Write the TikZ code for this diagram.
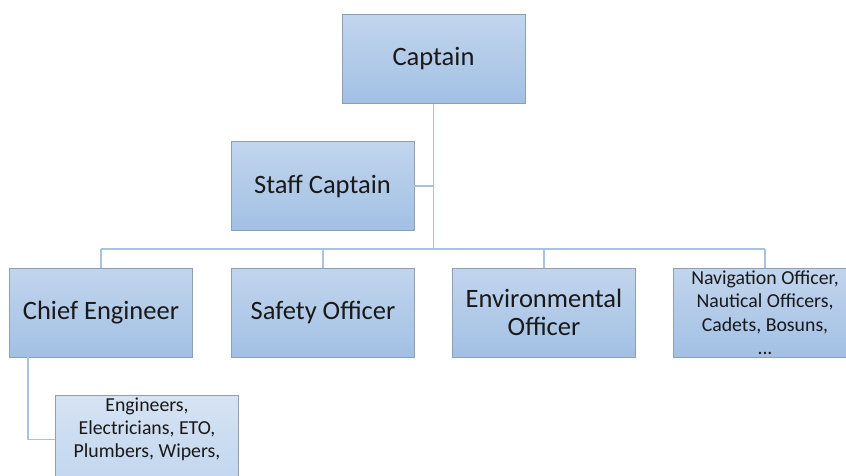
\documentclass[tikz,border=0pt]{standalone}
\usepackage{fontspec}
\setmainfont{Carlito}
\definecolor{boxtop}{HTML}{C2D5ED}
\definecolor{boxbot}{HTML}{A2C0E4}
\definecolor{subtop}{HTML}{D6E3F3}
\definecolor{subbot}{HTML}{C2D6EE}
\definecolor{boxrim}{HTML}{8C9FB6}
\definecolor{linkblue}{HTML}{A8C2E2}
\begin{document}
\begin{tikzpicture}[x=1pt,y=-1pt,
  role/.style={rectangle, draw=boxrim, line width=0.9pt, top color=boxtop, bottom color=boxbot,
    minimum width=183pt, minimum height=89pt, inner sep=0pt, align=center,
    font=\fontsize{26.5}{28}\selectfont, text=black!90},
  crew/.style={role, font=\fontsize{19.8}{23.5}\selectfont},
  subcrew/.style={crew, top color=subtop, bottom color=subbot},
  link/.style={draw=linkblue, line width=1.4pt}]
  \clip (0,0) rectangle (846,476);
  \useasboundingbox (0,0) rectangle (846,476);

  % top of the chain of command
  \node[role] (captain) at (433.5,59) {Captain};
  \node[role] (staff) at (322.5,186) {Staff Captain};

  % department heads
  \node[role] (chief) at (101,312.5) {Chief Engineer};
  \node[role] (safety) at (323,312.5) {Safety Officer};
  \node[role] (env) at (544,312.5) {Environmental\\Officer};
  \node[crew] (nav) at (765,312.5) {Navigation Officer,\\Nautical Officers,\\Cadets, Bosuns,\\...};

  % engine department crew
  \node[subcrew] (eng) at (147,439.5) {};
  \node[font=\fontsize{19.8}{23}\selectfont, text=black!90, align=center, inner sep=0pt] (engtext) at (147,429.5)
    {Engineers,\\Electricians, ETO,\\Plumbers, Wipers,};

  % connectors
  \coordinate (bus) at (433.5,249);
  \coordinate (busL) at (101,249);
  \coordinate (busR) at (765,249);
  \begin{scope}[on background layer/.try]
    \path[link] (captain.south) -- (bus);
    \path[link] (staff.east) -- (staff.east -| bus);
    \path[link] (busL) -- (busR);
    \path[link] (busL) -- (chief.north);
    \path[link] (safety.north |- bus) -- (safety.north);
    \path[link] (env.north |- bus) -- (env.north);
    \path[link] (busR) -- (nav.north);
    \path[link] (28,357) |- (eng.west);
  \end{scope}
\end{tikzpicture}
\end{document}
